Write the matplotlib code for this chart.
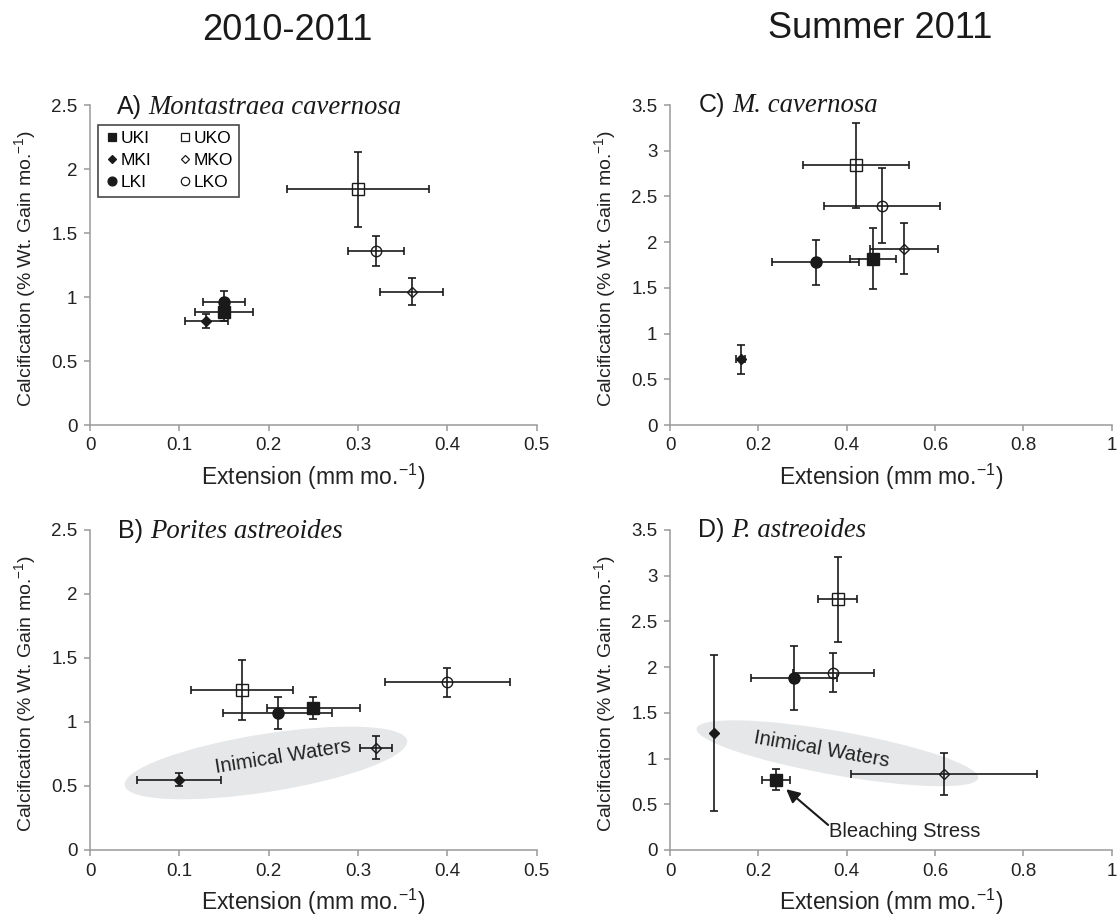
import matplotlib
matplotlib.use('Agg')
import matplotlib.pyplot as plt
import matplotlib.transforms as mtransforms
from matplotlib.patches import Ellipse
from matplotlib.lines import Line2D
from matplotlib.ticker import FuncFormatter, MultipleLocator

plt.rcParams['font.family'] = ['Liberation Sans', 'DejaVu Sans']
plt.rcParams['mathtext.fontset'] = 'custom'
plt.rcParams['mathtext.rm'] = 'Liberation Sans'
plt.rcParams['mathtext.it'] = 'Liberation Serif:italic'
plt.rcParams['mathtext.default'] = 'regular'

# site order: UKI, MKI, LKI, UKO, MKO, LKO
sites = ['UKI', 'MKI', 'LKI', 'UKO', 'MKO', 'LKO']

a_x = [0.15, 0.13, 0.15, 0.30, 0.36, 0.32]
a_y = [0.88, 0.81, 0.96, 1.84, 1.04, 1.36]
a_xerr = [0.033, 0.024, 0.024, 0.08, 0.035, 0.031]
a_yerr = [0.07, 0.055, 0.09, 0.295, 0.105, 0.12]

b_x = [0.25, 0.10, 0.21, 0.17, 0.32, 0.40]
b_y = [1.11, 0.55, 1.07, 1.25, 0.80, 1.31]
b_xerr = [0.052, 0.047, 0.061, 0.057, 0.018, 0.07]
b_yerr = [0.087, 0.053, 0.128, 0.236, 0.09, 0.113]

c_x = [0.46, 0.16, 0.33, 0.42, 0.53, 0.48]
c_y = [1.82, 0.72, 1.78, 2.84, 1.93, 2.40]
c_xerr = [0.052, 0.01, 0.098, 0.12, 0.077, 0.132]
c_yerr = [0.335, 0.16, 0.248, 0.465, 0.277, 0.41]

d_x = [0.24, 0.10, 0.28, 0.38, 0.62, 0.37]
d_y = [0.77, 1.28, 1.88, 2.74, 0.83, 1.94]
d_xerr = [0.031, 0.0, 0.097, 0.044, 0.211, 0.091]
d_yerr = [0.118, 0.854, 0.354, 0.465, 0.228, 0.21]

markers = ['s', 'D', 'o', 's', 'D', 'o']
msizes = [8, 5, 8, 8, 5, 7.5]
filled = [True, True, True, False, False, False]

W, H = 1119, 919
fig = plt.figure(figsize=(W / 100, H / 100), dpi=100)


def px_axes(left, top, right, bottom):
    return fig.add_axes([left / W, 1 - bottom / H, (right - left) / W, (bottom - top) / H])


ax_a = px_axes(90, 105, 536.6, 425)
ax_b = px_axes(90, 530, 536.6, 850)
ax_c = px_axes(670, 105, 1111.7, 425)
ax_d = px_axes(670, 530, 1111.7, 850)

fmt = FuncFormatter(lambda v, p: f'{v:g}')


def style(ax, xmax, xstep, ymax):
    ax.set_xlim(0, xmax)
    ax.set_ylim(0, ymax)
    ax.xaxis.set_major_locator(MultipleLocator(xstep))
    ax.yaxis.set_major_locator(MultipleLocator(0.5))
    ax.xaxis.set_major_formatter(fmt)
    ax.yaxis.set_major_formatter(fmt)
    for s in ['top', 'right']:
        ax.spines[s].set_visible(False)
    for s in ['left', 'bottom']:
        ax.spines[s].set_color('#9a9a9a')
        ax.spines[s].set_linewidth(1.1)
    ax.tick_params(direction='out', length=4, width=1.1, color='#9a9a9a',
                   labelsize=13.5, labelcolor='#222222', pad=5)
    ax.set_xlabel('Extension (mm mo.$^{-1}$)', fontsize=16.5, color='#222222', va='center')
    ax.xaxis.set_label_coords(0.5, -0.163)
    ax.set_ylabel('Calcification (% Wt. Gain mo.$^{-1}$)', fontsize=14, color='#222222', va='center')
    ax.yaxis.set_label_coords(-0.146, 0.49)


def draw(ax, xs, ys, xerr, yerr):
    for i in range(len(xs)):
        ax.errorbar(xs[i], ys[i], xerr=xerr[i], yerr=yerr[i], fmt='none',
                    ecolor='#1a1a1a', elinewidth=1.2, capsize=2.6, capthick=1.2, zorder=3)
        ax.plot(xs[i], ys[i], marker=markers[i], ms=msizes[i], ls='none',
                mfc='#1a1a1a' if filled[i] else 'none', mec='#1a1a1a', mew=1.0, zorder=4)


def panel_title(ax, x, y, label, species):
    t = ax.text(x, y, label, transform=ax.transAxes, fontsize=18, color='#1a1a1a',
                va='baseline', ha='left')
    ax.annotate(species, xy=(1, y), xycoords=(t, 'axes fraction'),
                xytext=(5, 0), textcoords='offset points', va='baseline', ha='left',
                fontsize=19.3, family='Liberation Serif', style='italic', color='#1a1a1a')


def blob(ax, cx, cy, w, h, ang):
    tr = fig.dpi_scale_trans + mtransforms.ScaledTranslation(cx, cy, ax.transData)
    ax.add_patch(Ellipse((0, 0), w / 100, h / 100, angle=ang, transform=tr,
                         facecolor='#e6e7e8', edgecolor='none', zorder=1))


style(ax_a, 0.5, 0.1, 2.5)
style(ax_b, 0.5, 0.1, 2.5)
style(ax_c, 1.0, 0.2, 3.5)
style(ax_d, 1.0, 0.2, 3.5)

blob(ax_b, 0.197, 0.68, 286, 58, 9)
blob(ax_d, 0.379, 1.058, 286, 44, -10)

draw(ax_a, a_x, a_y, a_xerr, a_yerr)
draw(ax_b, b_x, b_y, b_xerr, b_yerr)
draw(ax_c, c_x, c_y, c_xerr, c_yerr)
draw(ax_d, d_x, d_y, d_xerr, d_yerr)

panel_title(ax_a, 0.06, 0.972, 'A)', 'Montastraea cavernosa')
panel_title(ax_b, 0.063, 0.975, 'B)', 'Porites astreoides')
panel_title(ax_c, 0.066, 0.979, 'C)', 'M. cavernosa')
panel_title(ax_d, 0.063, 0.979, 'D)', 'P. astreoides')

ax_b.text(0.2165, 0.729, 'Inimical Waters', fontsize=14.5, color='#222222',
          rotation=9, rotation_mode='anchor', ha='center', va='center', zorder=2)
ax_d.text(0.343, 1.10, 'Inimical Waters', fontsize=14.5, color='#222222',
          rotation=-10, rotation_mode='anchor', ha='center', va='center', zorder=2)
ax_d.text(0.361, 0.20, 'Bleaching Stress', fontsize=14.5, color='#222222',
          ha='left', va='center')
ax_d.annotate('', xy=(0.263, 0.665), xytext=(0.358, 0.274),
              arrowprops=dict(arrowstyle='-|>', color='#1a1a1a', lw=1.5,
                              mutation_scale=20, shrinkA=0, shrinkB=0))

handles = [Line2D([], [], marker=markers[i], ls='none', ms=msizes[i] * 0.8,
                  mfc='#1a1a1a' if filled[i] else 'none', mec='#1a1a1a', mew=0.9)
           for i in range(6)]
leg = ax_a.legend(handles, sites, ncol=2, loc='upper left', bbox_to_anchor=(0.018, 0.9375),
                  borderaxespad=0, fontsize=12.5, frameon=True, fancybox=False,
                  handlelength=0.9, handletextpad=0.05, columnspacing=1.5,
                  labelspacing=0.4, borderpad=0.35)
leg.get_frame().set_edgecolor('#1a1a1a')
leg.get_frame().set_linewidth(1.2)

fig.text(287 / W, 1 - 40 / H, '2010-2011', fontsize=26, ha='center', va='baseline', color='#1a1a1a')
fig.text(880 / W, 1 - 38 / H, 'Summer 2011', fontsize=26, ha='center', va='baseline', color='#1a1a1a')

fig.savefig('out.png', dpi=100)
